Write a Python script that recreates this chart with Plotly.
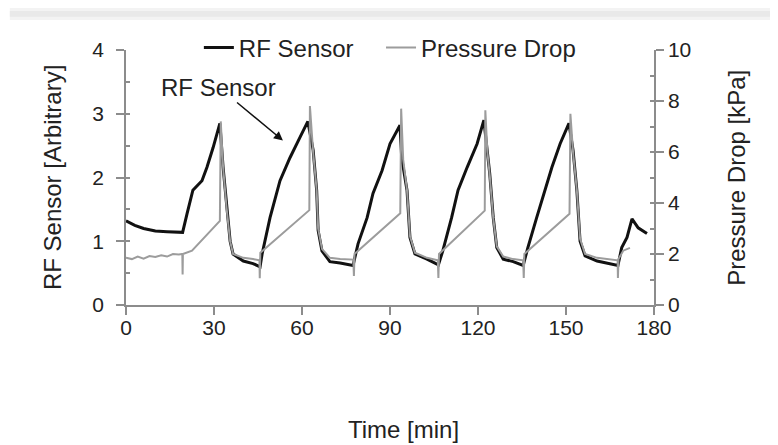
import plotly.graph_objects as go

# RF sensor (left axis, arbitrary units)
rf_time = [0, 3, 6, 10, 14, 19.3, 20.8, 22.8, 25.9, 27.6, 29.7, 32.0, 33.1, 34.3, 35.5, 36.5, 40.0, 43.3, 45.7,
           46.4, 49.1, 52.5, 55.9, 59.3, 62.0, 63.8, 65.0, 65.5, 66.8, 69.5, 73.0, 77.4,
           79.1, 82.2, 84.2, 87.3, 90.0, 93.4, 94.0, 95.8, 96.8, 98.5, 102.6, 106.5,
           108.0, 111.0, 113.2, 116.3, 119.7, 122.0, 123.0, 124.0, 125.2, 126.4, 128.6, 132.0, 135.4,
           137.0, 140.0, 142.9, 145.2, 148.0, 151.0, 152.4, 153.7, 154.8, 156.5, 160.6, 165.0, 167.7,
           169.0, 170.8, 172.5, 174.6, 177.6]
rf_value = [1.32, 1.25, 1.20, 1.16, 1.15, 1.14, 1.43, 1.80, 1.95, 2.16, 2.47, 2.85, 2.16, 1.53, 1.00, 0.80, 0.69, 0.65, 0.60,
            0.80, 1.37, 1.95, 2.31, 2.63, 2.88, 2.43, 1.80, 1.17, 0.85, 0.68, 0.66, 0.62,
            0.96, 1.37, 1.75, 2.11, 2.53, 2.82, 2.30, 1.80, 1.06, 0.80, 0.72, 0.63,
            0.85, 1.37, 1.80, 2.16, 2.53, 2.90, 2.43, 2.06, 1.37, 0.90, 0.72, 0.68, 0.62,
            0.90, 1.37, 1.80, 2.16, 2.53, 2.85, 2.43, 1.80, 1.00, 0.77, 0.69, 0.65, 0.62,
            0.90, 1.06, 1.35, 1.21, 1.12]

# Pressure drop (right axis, kPa)
pd_time = [0, 2, 4, 6, 8, 10, 12, 14, 16, 18, 19.2, 19.3, 19.4, 22.5, 32.0, 32.3, 33.1, 34.3, 35.5, 36.5, 40.0, 43.3, 45.5,
           45.6, 45.8, 62.5, 62.7, 63.8, 65.0, 65.5, 66.8, 69.5, 73.0, 77.5,
           77.7, 77.9, 93.5, 93.8, 94.5, 95.8, 96.8, 98.5, 102.6, 106.3,
           106.5, 106.7, 122.3, 122.5, 123.2, 124.0, 125.2, 126.4, 128.6, 132.0, 135.4,
           135.6, 135.8, 151.2, 151.5, 152.4, 153.7, 154.8, 156.5, 160.6, 165.0, 167.6,
           167.7, 167.9, 169.5, 171.8]
pd_value = [1.85, 1.80, 1.90, 1.82, 1.92, 1.88, 1.95, 1.90, 2.00, 1.98, 2.00, 1.20, 2.00, 2.13, 3.30, 7.20, 5.40, 3.80, 2.50, 2.00, 1.85, 1.80, 1.75,
            1.05, 2.05, 3.72, 7.80, 6.00, 4.50, 3.00, 2.20, 1.85, 1.80, 1.78,
            1.14, 2.00, 3.60, 7.70, 5.70, 4.50, 2.70, 2.05, 1.85, 1.75,
            1.06, 2.00, 3.70, 7.64, 6.00, 5.10, 3.40, 2.30, 1.90, 1.80, 1.75,
            1.06, 2.00, 3.58, 7.50, 6.00, 4.50, 2.60, 2.00, 1.85, 1.80, 1.75,
            1.06, 1.80, 2.13, 2.24]

x_ticks = [0, 30, 60, 90, 120, 150, 180]
left_ticks = [0, 1, 2, 3, 4]
right_ticks = [0, 2, 4, 6, 8, 10]

FONT = "Liberation Sans, Arial, sans-serif"
AX = "#8c8c8c"
TXT = "#222222"
FS = 24      # titles, legend, annotation
TFS = 21     # tick labels

fig = go.Figure()
fig.add_trace(go.Scatter(x=rf_time, y=rf_value, mode="lines", name="RF Sensor",
                         line=dict(color="#111111", width=3), yaxis="y", legend="legend"))
fig.add_trace(go.Scatter(x=pd_time, y=pd_value, mode="lines", name="Pressure Drop",
                         line=dict(color="#9c9c9c", width=2), yaxis="y2", legend="legend2"))
# tick-only helper axes (inside tick marks)
fig.add_trace(go.Scatter(x=[None], y=[None], yaxis="y3", showlegend=False, hoverinfo="skip"))
fig.add_trace(go.Scatter(x=[None], y=[None], yaxis="y4", showlegend=False, hoverinfo="skip"))

common = dict(showgrid=False, zeroline=False, linecolor=AX, linewidth=1.5, tickcolor=AX,
              tickwidth=1.5, tickfont=dict(family=FONT, size=TFS, color=TXT))
leg = dict(orientation="h", y=1.008, xanchor="left", yanchor="middle",
           bgcolor="rgba(0,0,0,0)", font=dict(family=FONT, size=FS, color=TXT), itemwidth=30)

fig.update_layout(
    width=770, height=437,
    margin=dict(l=118, r=124, t=42, b=140),
    paper_bgcolor="white", plot_bgcolor="white",
    font=dict(family=FONT, size=FS, color=TXT),
    showlegend=True,
    legend=dict(x=0.138, **leg),
    legend2=dict(x=0.483, **leg),
    xaxis=dict(range=[0, 180], tickvals=x_ticks, ticks="outside", ticklen=8, showline=True,
               ticklabelstandoff=-5, **common),
    yaxis=dict(range=[0, 4], tickvals=left_ticks, ticks="outside", ticklen=8, showline=True,
               ticklabelstandoff=8, **common),
    yaxis2=dict(range=[0, 10], tickvals=right_ticks, ticks="outside", ticklen=8, showline=True,
                overlaying="y", side="right", anchor="x", ticklabelstandoff=0, **common),
    yaxis3=dict(range=[0, 4], dtick=0.5, ticks="inside", ticklen=4, showline=False,
                showticklabels=False, overlaying="y", side="left", anchor="x",
                showgrid=False, zeroline=False, tickcolor=AX, tickwidth=1.5),
    yaxis4=dict(range=[0, 10], dtick=1, ticks="inside", ticklen=4, showline=False,
                showticklabels=False, overlaying="y", side="right", anchor="x",
                showgrid=False, zeroline=False, tickcolor=AX, tickwidth=1.5),
    shapes=[
        dict(type="rect", xref="paper", yref="paper", x0=-0.22, x1=1.3, y0=1.118, y1=1.165,
             fillcolor="#f3f3f3", line=dict(width=0), layer="below"),
        dict(type="rect", xref="paper", yref="paper", x0=-0.22, x1=1.3, y0=1.13, y1=1.153,
             fillcolor="#e9e9e9", line=dict(width=0), layer="below"),
    ],
    annotations=[
        dict(text="RF Sensor", x=53.5, y=2.58, xref="x", yref="y", ax=-64, ay=-53,
             showarrow=True, arrowhead=2, arrowsize=1.2, arrowwidth=1.5, arrowcolor="#111111",
             font=dict(family=FONT, size=FS, color=TXT)),
        dict(text="RF Sensor [Arbitrary]", x=-0.14, y=0.498, xref="paper", yref="paper",
             textangle=-90, showarrow=False, xanchor="center", yanchor="middle",
             font=dict(family=FONT, size=FS, color=TXT)),
        dict(text="Pressure Drop [kPa]", x=1.155, y=0.498, xref="paper", yref="paper",
             textangle=-90, showarrow=False, xanchor="center", yanchor="middle",
             font=dict(family=FONT, size=FS, color=TXT)),
        dict(text="Time [min]", x=0.525, y=-0.49, xref="paper", yref="paper",
             showarrow=False, xanchor="center", yanchor="middle",
             font=dict(family=FONT, size=FS, color=TXT)),
    ],
)

fig.write_html("out.html")
